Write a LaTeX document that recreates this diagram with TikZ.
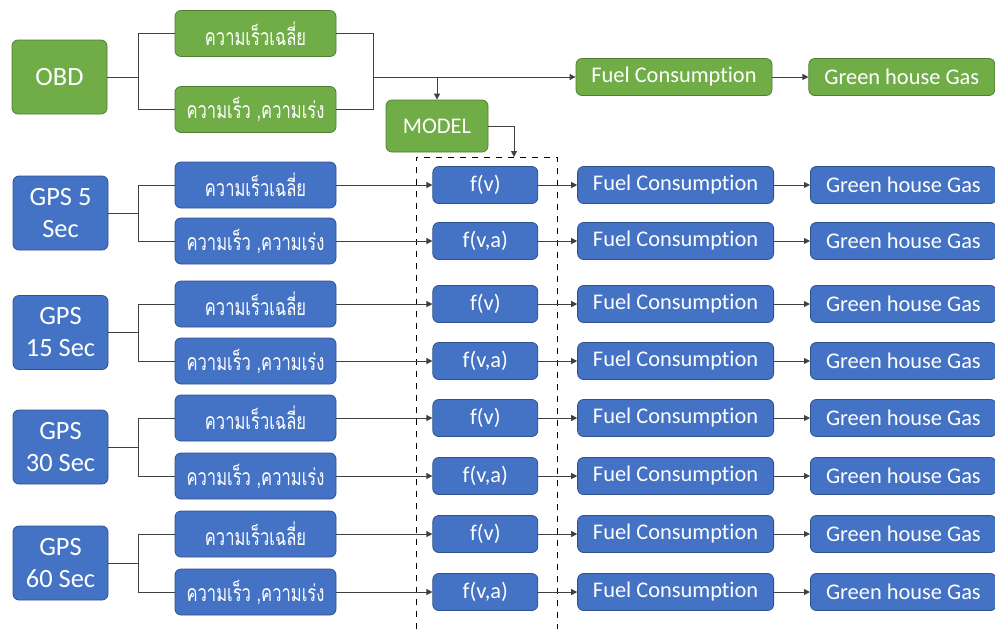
\documentclass[tikz,border=0pt]{standalone}
\usepackage{fontspec}
\setmainfont{Carlito}[Ligatures=NoCommon]
\newfontfamily\thaifont[Script=Thai, FakeStretch=0.72]{Loma}
\usetikzlibrary{arrows.meta,positioning}
\definecolor{obdgreen}{HTML}{70AD47}
\definecolor{obdedge}{HTML}{507E32}
\definecolor{gpsblue}{HTML}{4472C4}
\definecolor{gpsedge}{HTML}{2F528F}
\newcommand{\avgspeed}{{\thaifont\fontsize{11.5}{13}\selectfont ความเร็วเฉลี่ย}}
\newcommand{\speedacc}{{\thaifont\fontsize{11.5}{13}\selectfont ความเร็ว ,ความเร่ง}}

\begin{document}
\begin{tikzpicture}[x=0.5pt, y=-0.5pt,
  box/.style={draw, rounded corners=3pt, align=center, text=white, inner sep=0pt, line width=0.4pt, font=\fontsize{11.2}{13.5}\selectfont},
  gbox/.style={box, fill=obdgreen, draw=obdedge},
  bbox/.style={box, fill=gpsblue, draw=gpsedge},
  src/.style={minimum width=47.5pt, minimum height=37pt, font=\fontsize{13.2}{16}\selectfont},
  thai/.style={minimum width=80.5pt, minimum height=23pt},
  fn/.style={minimum width=52.5pt, minimum height=18.5pt},
  fuel/.style={minimum width=98pt, minimum height=18.5pt},
  ghg/.style={minimum width=93pt, minimum height=18.5pt},
  wire/.style={draw=black!75, line width=0.4pt},
  arr/.style={wire, -{Triangle[length=3pt, width=3pt]}},
  modelframe/.style={draw=black, dashed, line width=0.5pt}]
\useasboundingbox (0,0) rectangle (995,629);
% OBD branch
\node[gbox, src] (obd) at (59.5,77) {OBD};
\node[gbox, thai] (gavg) at (255.5,33.5) {\avgspeed};
\node[gbox, thai] (gva) at (255.5,109.5) {\speedacc};
\node[gbox, minimum width=51pt, minimum height=26pt] (model) at (437,126) {MODEL};
\node[gbox, fuel] (gfuel) at (674,77) {Fuel Consumption};
\node[gbox, ghg, right=18pt of gfuel] (gghg) {Green house Gas};
\draw[wire] (obd.east) -- ++(31,0) coordinate (jl);
\draw[wire] (jl) |- (gavg.west);
\draw[wire] (jl) |- (gva.west);
\draw[wire] (gavg.east) -- ++(37,0) coordinate (jr) -- (jr |- gva.east) -- (gva.east);
\coordinate (jm) at (jr |- obd.east);
\draw[arr] (jm) -- (gfuel.west);
\draw[arr] (gghg.west -| gfuel.east) -- (gghg.west);
\draw[arr] (model.north |- jm) -- (model.north);
% model frame
\coordinate (frametop) at (514,157);
\draw[modelframe] (416,629) |- (557,157) -- (557,629);
\draw[arr] (model.east) -| (frametop);
% GPS branches
\foreach \g/\lbl/\ya/\yb in {1/{GPS 5\\Sec}/185/241, 2/{GPS\\15 Sec}/304/361,
    3/{GPS\\30 Sec}/418/476, 4/{GPS\\60 Sec}/534/592}{
  \node[bbox, src] (gps\g) at (60.5,{(\ya+\yb)/2}) {\lbl};
  \node[bbox, thai] (avg\g) at (255.5,\ya) {\avgspeed};
  \node[bbox, thai] (va\g) at (255.5,\yb) {\speedacc};
  \node[bbox, fn, right=48pt of avg\g] (fv\g) {f(v)};
  \node[bbox, fn, right=48pt of va\g] (fva\g) {f(v,a)};
  \node[bbox, fuel, right=19.5pt of fv\g] (fuela\g) {Fuel Consumption};
  \node[bbox, fuel, right=19.5pt of fva\g] (fuelb\g) {Fuel Consumption};
  \node[bbox, ghg, right=18pt of fuela\g] (ghga\g) {Green house Gas};
  \node[bbox, ghg, right=18pt of fuelb\g] (ghgb\g) {Green house Gas};
  \draw[wire] (gps\g.east) -- ++(30,0) coordinate (js\g);
  \draw[wire] (js\g) |- (avg\g.west);
  \draw[wire] (js\g) |- (va\g.west);
  \draw[arr] (avg\g) -- (fv\g);
  \draw[arr] (va\g) -- (fva\g);
  \draw[arr] (fv\g) -- (fuela\g);
  \draw[arr] (fva\g) -- (fuelb\g);
  \draw[arr] (fuela\g) -- (ghga\g);
  \draw[arr] (fuelb\g) -- (ghgb\g);
}
\end{tikzpicture}
\end{document}
